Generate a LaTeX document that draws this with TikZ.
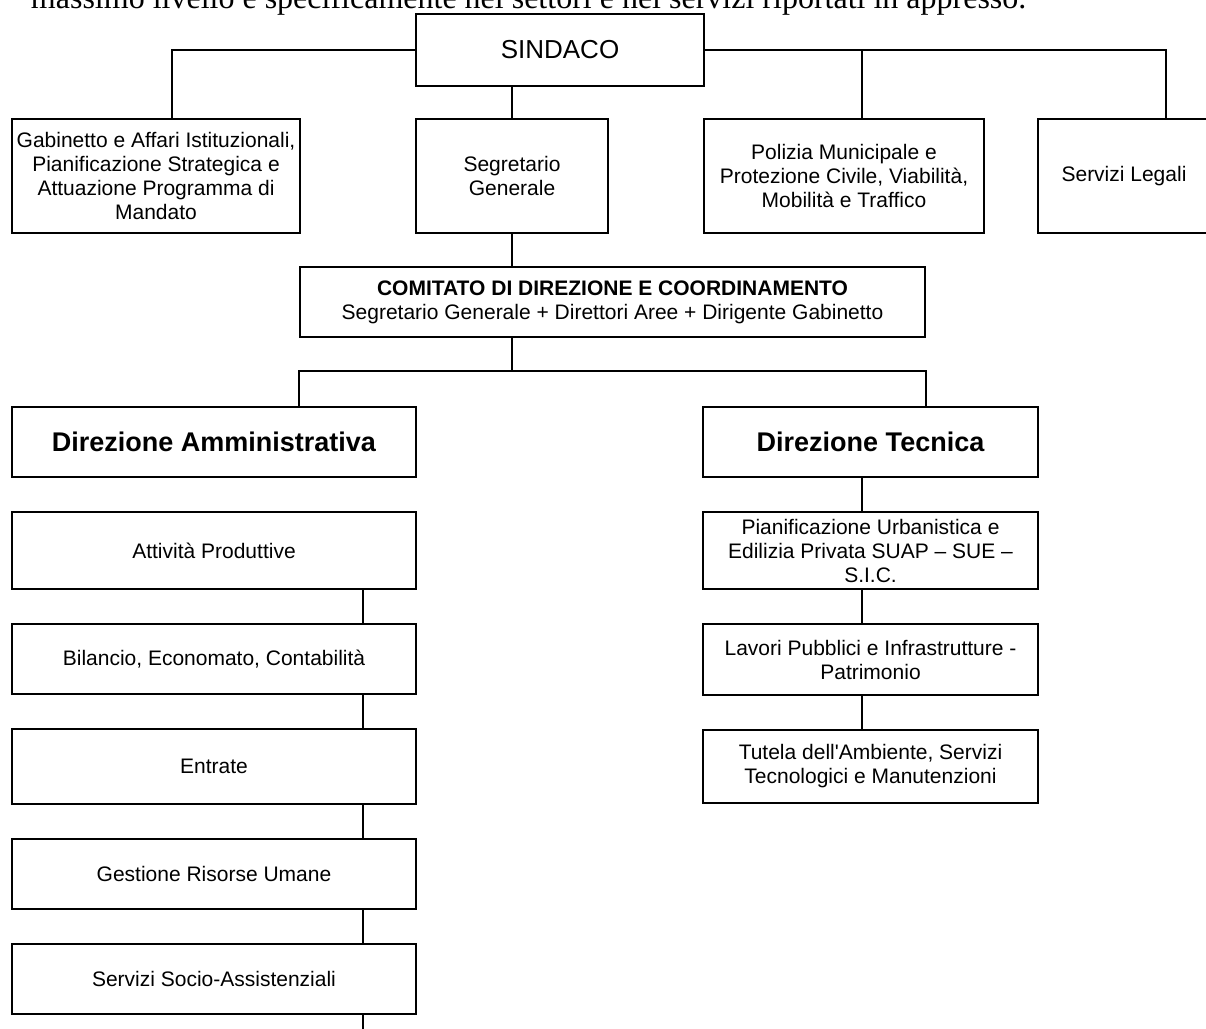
\documentclass[tikz,border=0pt]{standalone}
\usepackage{fontspec}
\setmainfont{Liberation Serif}
\newfontfamily\arialfont{Liberation Sans}
\usepackage{tikz}
\usetikzlibrary{calc}
\usetikzlibrary{positioning}

\begin{document}
\begin{tikzpicture}[x=0.75pt,y=-0.75pt,line width=1.5pt,node distance=24.75pt]
	\tikzstyle{box}=[draw, rectangle, inner sep=0pt, align=center, font=\arialfont\fontsize{15.75}{18}\selectfont]
	\tikzstyle{head}=[box, font=\arialfont\bfseries\fontsize{20.25}{24}\selectfont]
	\useasboundingbox (0,0) rectangle (1206,1028);
	\node[anchor=base west, inner sep=0pt, font=\fontsize{24}{28}\selectfont] (intro) at (30,8) {massimo livello e specificamente nei settori e nei servizi riportati in appresso.};

	% vertice
	\node[box, minimum width=216pt, minimum height=54pt, font=\arialfont\fontsize{19.5}{23}\selectfont] (sindaco) at (560,50) {SINDACO};
		\node[box, minimum width=216pt, minimum height=85.5pt] (gabinetto) at (156,176) {Gabinetto e Affari Istituzionali,\\Pianificazione Strategica e\\Attuazione Programma di\\Mandato};
		\node[box, minimum width=144pt, minimum height=85.5pt] (segretario) at (512,176) {Segretario\\Generale};
		\node[box, minimum width=210pt, minimum height=85.5pt] (polizia) at (844,176) {Polizia Municipale e\\Protezione Civile, Viabilità,\\Mobilità e Traffico};
		\node[box, minimum width=129pt, minimum height=85.5pt] (legali) at (1124,176) {Servizi Legali};
		\node[box, minimum width=468.75pt, minimum height=52.5pt] (comitato) at (612.5,302) {\textbf{COMITATO DI DIREZIONE E COORDINAMENTO}\\Segretario Generale + Direttori Aree + Dirigente Gabinetto};

	% direzioni
	\node[head, minimum width=303pt, minimum height=52.5pt] (dirAmm) at (214,442) {Direzione Amministrativa};
		\node[box, minimum width=303pt, minimum height=57.75pt] (attivita) [below=of dirAmm] {Attività Produttive};
		\node[box, minimum width=303pt, minimum height=52.5pt] (bilancio) [below=of attivita] {Bilancio, Economato, Contabilità};
		\node[box, minimum width=303pt, minimum height=56.25pt] (entrate) [below=of bilancio] {Entrate};
		\node[box, minimum width=303pt, minimum height=52.5pt] (gestione) [below=of entrate] {Gestione Risorse Umane};
		\node[box, minimum width=303pt, minimum height=52.5pt] (socio) [below=of gestione] {Servizi Socio-Assistenziali};

	\node[head, minimum width=251.25pt, minimum height=52.5pt] (dirTec) at (870.5,442) {Direzione Tecnica};
		\node[box, minimum width=251.25pt, minimum height=57.75pt] (pianif) [below=of dirTec] {Pianificazione Urbanistica e\\Edilizia Privata SUAP – SUE –\\S.I.C.};
		\node[box, minimum width=251.25pt, minimum height=53.25pt] (lavori) [below=of pianif] {Lavori Pubblici e Infrastrutture -\\Patrimonio};
		\node[box, minimum width=251.25pt, minimum height=54.75pt] (tutela) [below=of lavori] {Tutela dell\textquotesingle Ambiente, Servizi\\Tecnologici e Manutenzioni};

	% collegamenti
	\draw (sindaco.west) -| ($(gabinetto.north)+(16,0)$);
	\draw (sindaco.east) -| ($(polizia.north)+(18,0)$);
	\draw (sindaco.east) -| ($(legali.north)+(42,0)$);
	\draw (segretario.north) -- (segretario.north |- sindaco.south);
	\draw (segretario.south) -- (segretario.south |- comitato.north);
	\coordinate (split) at (512,371);
	\draw (segretario.south |- comitato.south) -- (split);
	\draw (comitato.west |- dirAmm.north) |- (split) -| (comitato.east |- dirTec.north);
	\foreach \a/\b in {attivita/bilancio,bilancio/entrate,entrate/gestione,gestione/socio}{
		\draw ($(\a.south)+(149,0)$) -- ($(\b.north)+(149,0)$);
	}
	\coordinate (cont) at ($(socio.south)+(149,40)$);
	\draw ($(socio.south)+(149,0)$) -- (cont);
	\foreach \a/\b in {dirTec/pianif,pianif/lavori,lavori/tutela}{
		\draw ($(\a.south)+(-8.5,0)$) -- ($(\b.north)+(-8.5,0)$);
	}
\end{tikzpicture}
\end{document}
